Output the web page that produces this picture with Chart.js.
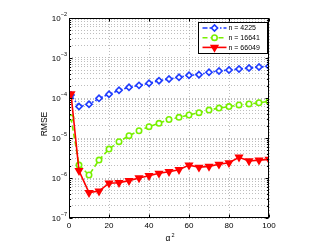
<!DOCTYPE html>
<html><head><meta charset="utf-8">
<script src="https://cdn.jsdelivr.net/npm/chart.js@4.4.0/dist/chart.umd.min.js"></script>
<style>html,body{margin:0;padding:0;background:#fff;overflow:hidden}canvas{display:block}</style>
</head><body>
<canvas id="c" width="327" height="246"></canvas>
<script>
const alpha2 = [1,5,10,15,20,25,30,35,40,45,50,55,60,65,70,75,80,85,90,95,100];
const rmse4225 = [1.19e-4,6.1e-5,6.95e-5,9.8e-5,1.24e-4,1.56e-4,1.85e-4,2.07e-4,2.33e-4,2.71e-4,2.99e-4,3.29e-4,3.69e-4,3.83e-4,4.39e-4,4.73e-4,5.0e-4,5.3e-4,5.6e-4,5.96e-4,6.2e-4];
const rmse16641 = [3.2e-5,2.1e-6,1.19e-6,2.8e-6,5.3e-6,8.1e-6,1.14e-5,1.52e-5,1.92e-5,2.33e-5,2.9e-5,3.29e-5,3.76e-5,4.3e-5,5.0e-5,5.6e-5,6.1e-5,6.7e-5,7.1e-5,7.6e-5,8.3e-5];
const rmse66049 = [1.26e-4,1.52e-6,4.3e-7,4.7e-7,7.4e-7,7.6e-7,8.6e-7,1.0e-6,1.14e-6,1.31e-6,1.44e-6,1.61e-6,2.1e-6,1.85e-6,1.95e-6,2.2e-6,2.4e-6,3.3e-6,2.66e-6,2.8e-6,2.93e-6];
const seriesNames = ['n = 4225','n = 16641','n = 66049'];
const xTicks = [0,20,40,60,80,100];
const yExponents = [-7,-6,-5,-4,-3,-2];
const xTitle = 'α';
const xTitleSup = '2';
const yTitle = 'RMSE';

const FONT = '"Liberation Sans", Arial, sans-serif';
const BLUE = '#1f3cff', GREEN = '#78f000', RED = '#ff0000';

function mk(vals){ return alpha2.map((x,i)=>({x:x,y:vals[i]})); }

const styles = [
  {color:BLUE, dash:[5,2,1.5,2], pointStyle:'rectRot', radius:3.1, fill:'#ffffff', rotation:0},
  {color:GREEN, dash:[5,3], pointStyle:'circle', radius:2.7, fill:'#ffffff', rotation:0},
  {color:RED, dash:[], pointStyle:'triangle', radius:3.7, fill:RED, rotation:180}
];
const seriesData = [rmse4225, rmse16641, rmse66049];

const datasets = seriesData.map((vals,i)=>({
  label: seriesNames[i],
  data: mk(vals),
  borderColor: styles[i].color,
  borderWidth: 1.6,
  borderDash: styles[i].dash,
  pointStyle: styles[i].pointStyle,
  pointRotation: styles[i].rotation,
  pointRadius: styles[i].radius,
  pointBorderWidth: 1.6,
  pointBorderColor: styles[i].color,
  pointBackgroundColor: styles[i].fill,
  tension: 0,
  order: 3 - i
}));

const axesPlugin = {
  id:'axesPlugin',
  afterDraw(chart){
    const ctx = chart.ctx, a = chart.chartArea;
    const xs = chart.scales.x, ys = chart.scales.y;
    ctx.save();
    ctx.strokeStyle = '#000'; ctx.lineWidth = 1; ctx.setLineDash([]);
    const L = Math.round(a.left)+0.5, R = Math.round(a.right)-0.5, T = Math.round(a.top)+0.5, B = Math.round(a.bottom)-0.5;
    ctx.beginPath();
    xTicks.forEach(v=>{
      const px = Math.round(xs.getPixelForValue(v))+0.5;
      ctx.moveTo(px,B); ctx.lineTo(px,B-3);
      ctx.moveTo(px,T); ctx.lineTo(px,T+3);
    });
    for (let e = yExponents[0]; e <= yExponents[yExponents.length-1]; e++){
      for (let m = 1; m <= 9; m++){
        const v = m*Math.pow(10,e);
        if (v > Math.pow(10,yExponents[yExponents.length-1])*1.0001) break;
        const py = Math.round(ys.getPixelForValue(v))+0.5;
        const len = m===1 ? 3 : 1.6;
        ctx.moveTo(L,py); ctx.lineTo(L+len,py);
        ctx.moveTo(R,py); ctx.lineTo(R-len,py);
      }
    }
    ctx.stroke();
    ctx.strokeRect(L,T,R-L,B-T);

    ctx.fillStyle = '#000';
    ctx.font = '8px ' + FONT;
    ctx.textAlign = 'center'; ctx.textBaseline = 'middle';
    xTicks.forEach(v=>{
      ctx.fillText(String(v), xs.getPixelForValue(v), a.bottom + 8);
    });
    yExponents.forEach(e=>{
      const py = ys.getPixelForValue(Math.pow(10,e));
      const sup = '\u2212' + Math.abs(e);
      ctx.font = '5.5px ' + FONT;
      const sw = ctx.measureText(sup).width;
      ctx.textAlign = 'right'; ctx.textBaseline = 'middle';
      const rx = a.left - 2;
      ctx.fillText(sup, rx, py - 4);
      ctx.font = '8px ' + FONT;
      ctx.fillText('10', rx - sw, py + 1);
    });
    ctx.font = '8.5px ' + FONT;
    ctx.textAlign = 'center'; ctx.textBaseline = 'middle';
    const cx = (a.left + a.right)/2;
    ctx.fillText(xTitle, cx - 1, a.bottom + 21);
    ctx.font = '5.5px ' + FONT;
    ctx.textAlign = 'left';
    ctx.fillText(xTitleSup, cx + 2.5, a.bottom + 17);
    ctx.save();
    ctx.translate(a.left - 24, (a.top + a.bottom)/2 + 6);
    ctx.rotate(-Math.PI/2);
    ctx.font = '8.5px ' + FONT;
    ctx.textAlign = 'center'; ctx.textBaseline = 'middle';
    ctx.fillText(yTitle, 0, 0);
    ctx.restore();

    const lx = 198.5, ly = 22.5, lw = 69, lh = 31;
    ctx.fillStyle = '#fff';
    ctx.fillRect(lx, ly, lw, lh);
    ctx.strokeStyle = '#000'; ctx.lineWidth = 1;
    ctx.strokeRect(lx, ly, lw, lh);
    seriesNames.forEach((name,i)=>{
      const y = ly + 5.5 + i*9.7;
      const st = styles[i];
      ctx.strokeStyle = st.color; ctx.lineWidth = 1.6;
      ctx.setLineDash(st.dash);
      ctx.beginPath(); ctx.moveTo(lx+4, y); ctx.lineTo(lx+28, y); ctx.stroke();
      ctx.setLineDash([]);
      ctx.fillStyle = st.fill; ctx.strokeStyle = st.color; ctx.lineWidth = 1.6;
      Chart.helpers.drawPoint(ctx, {pointStyle: st.pointStyle, rotation: st.rotation, radius: st.radius, borderWidth: 1.6}, lx+16, y);
      ctx.fillStyle = '#000';
      ctx.font = '7px ' + FONT;
      ctx.textAlign = 'left'; ctx.textBaseline = 'middle';
      ctx.fillText(name, lx + 30, y + 0.5);
    });
    ctx.restore();
  }
};

new Chart(document.getElementById('c'), {
  type: 'line',
  data: { datasets: datasets },
  options: {
    responsive: false,
    animation: false,
    devicePixelRatio: 1,
    layout: { padding: { left: 69, top: 18, right: 58, bottom: 28 } },
    plugins: { legend: { display: false }, tooltip: { enabled: false } },
    scales: {
      x: {
        type: 'linear', min: 0, max: 100,
        afterBuildTicks: s => { s.ticks = xTicks.map(v => ({ value: v })); },
        ticks: { display: false },
        grid: { color: '#a0a0a0', lineWidth: 0.7, drawTicks: false },
        border: { display: false, dash: [1, 2] }
      },
      y: {
        type: 'logarithmic', min: Math.pow(10, yExponents[0]), max: Math.pow(10, yExponents[yExponents.length-1]),
        afterBuildTicks: s => {
          const t = [];
          for (let e = yExponents[0]; e <= yExponents[yExponents.length-1]; e++) {
            for (let m = 1; m <= 9; m++) {
              const v = m * Math.pow(10, e);
              if (v > s.max * 1.0001) break;
              t.push({ value: v, major: m === 1 });
            }
          }
          s.ticks = t;
        },
        ticks: { display: false },
        grid: { color: '#a0a0a0', lineWidth: 0.7, drawTicks: false },
        border: { display: false, dash: [1, 2] }
      }
    }
  },
  plugins: [axesPlugin]
});
</script>
</body></html>
